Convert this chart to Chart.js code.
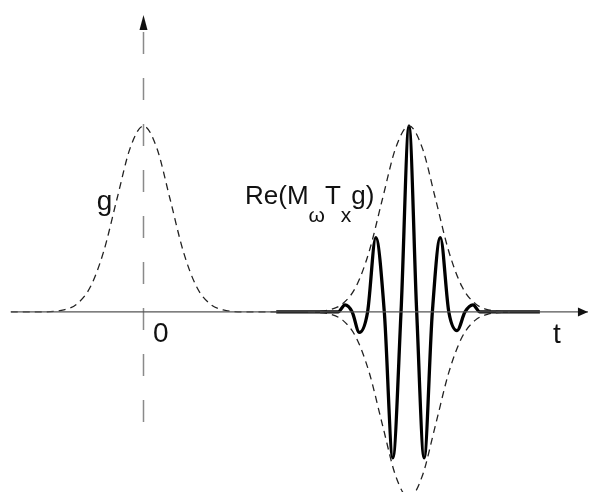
<!DOCTYPE html>
<html>
<head>
<meta charset="utf-8">
<script src="https://cdn.jsdelivr.net/npm/chart.js@4"></script>
<style>
  html, body { margin: 0; padding: 0; background: #fff; }
  canvas { display: block; }
</style>
</head>
<body>
<canvas id="gaborChart" width="589" height="492"></canvas>
<script>
// window g, centred at t = 0
const tG = [-5.0, -4.0, -3.0, -2.5, -2.0, -1.5, -1.0, -0.5, 0, 0.5, 1.0, 1.5, 2.0, 2.5, 3.0, 4.0, 5.2];
const gValues = [0, 0, 0.011, 0.044, 0.135, 0.325, 0.607, 0.882, 1.0, 0.882, 0.607, 0.325, 0.135, 0.044, 0.011, 0, 0];

// envelope of the shifted window (dashed, above and below)
const tEnvelope = [6.2, 6.5, 7.0, 7.5, 8.0, 8.5, 9.0, 9.5, 10.0, 10.5, 11.0, 11.5, 12.0, 12.5, 13.0, 13.5, 13.8];
const envUpper = [0, 0.002, 0.011, 0.044, 0.135, 0.325, 0.607, 0.882, 1.0, 0.882, 0.607, 0.325, 0.135, 0.044, 0.011, 0.002, 0];
const envLower = [0, -0.002, -0.011, -0.044, -0.135, -0.325, -0.607, -0.882, -1.0, -0.882, -0.607, -0.325, -0.135, -0.044, -0.011, -0.002, 0];

// Re(M_w T_x g): extrema and zero crossings
const tWave = [5.0, 6.8, 7.33, 7.59, 7.86, 8.13, 8.44, 8.75, 9.07, 9.39, 9.70, 10.0, 10.29, 10.57, 10.88, 11.18, 11.50, 11.81, 12.11, 12.41, 12.67, 13.2, 14.93];
const waveValues = [0, 0, 0, 0.038, 0, -0.11, 0, 0.40, 0, -0.785, 0, 1.0, 0, -0.785, 0, 0.40, 0, -0.10, 0, 0.038, 0, 0, 0];

// axes
const tAxis = [-4.99, 16.74];
const yAxis = [1.505, -0.688];
const xRange = [-5.405, 16.78];
const yRange = [-0.968, 1.677];

const toPoints = (xs, ys) => xs.map((x, i) => ({ x: x, y: ys[i] }));

const arrowsAndLabels = {
    id: 'arrowsAndLabels',
    afterDatasetsDraw(chart) {
        const ctx = chart.ctx;
        const sx = chart.scales.x;
        const sy = chart.scales.y;
        ctx.save();

        // arrow heads on the axes
        ctx.fillStyle = '#111';
        const ax = sx.getPixelForValue(tAxis[1]);
        const ay = sy.getPixelForValue(0);
        ctx.beginPath();
        ctx.moveTo(ax, ay);
        ctx.lineTo(ax - 10, ay - 4.5);
        ctx.lineTo(ax - 10, ay + 4.5);
        ctx.closePath();
        ctx.fill();

        const vx = sx.getPixelForValue(0);
        const vy = sy.getPixelForValue(1.597);
        ctx.beginPath();
        ctx.moveTo(vx, vy);
        ctx.lineTo(vx - 4, vy + 15);
        ctx.lineTo(vx + 4, vy + 15);
        ctx.closePath();
        ctx.fill();

        // labels
        const font = size => size + 'px "Liberation Sans", Arial, sans-serif';
        ctx.textBaseline = 'alphabetic';
        ctx.textAlign = 'left';
        ctx.fillStyle = '#111';

        ctx.font = font(28);
        ctx.fillText('g', sx.getPixelForValue(-1.763), sy.getPixelForValue(0.548));
        ctx.fillText('0', sx.getPixelForValue(0.36), sy.getPixelForValue(-0.161));
        ctx.fillText('t', sx.getPixelForValue(15.42), sy.getPixelForValue(-0.167));

        // Re(M_ω T_x g)
        let px = sx.getPixelForValue(3.823);
        const base = sy.getPixelForValue(0.581);
        const parts = [
            ['Re(M', 26, 0],
            ['\u03c9', 21, 18],
            ['T', 26, 0],
            ['x', 21, 18],
            ['g)', 26, 0]
        ];
        parts.forEach(([txt, size, drop]) => {
            ctx.font = font(size);
            ctx.fillText(txt, px, base + drop);
            px += ctx.measureText(txt).width;
        });

        ctx.restore();
    }
};

const ctx = document.getElementById('gaborChart').getContext('2d');
const gaborChart = new Chart(ctx, {
    type: 'line',
    data: {
        datasets: [
            {
                label: 'time axis',
                data: toPoints(tAxis, [0, 0]),
                borderColor: '#555',
                borderWidth: 1.2,
                pointRadius: 0
            },
            {
                label: 'vertical axis',
                data: toPoints([0, 0], yAxis),
                borderColor: '#8a8a8a',
                borderWidth: 1.5,
                borderDash: [22, 24],
                pointRadius: 0
            },
            {
                label: 'g',
                data: toPoints(tG, gValues),
                borderColor: '#222',
                borderWidth: 1.3,
                borderDash: [7, 5],
                pointRadius: 0,
                cubicInterpolationMode: 'monotone'
            },
            {
                label: 'envelope +',
                data: toPoints(tEnvelope, envUpper),
                borderColor: '#222',
                borderWidth: 1.3,
                borderDash: [7, 5],
                pointRadius: 0,
                cubicInterpolationMode: 'monotone'
            },
            {
                label: 'envelope -',
                data: toPoints(tEnvelope, envLower),
                borderColor: '#222',
                borderWidth: 1.3,
                borderDash: [7, 5],
                pointRadius: 0,
                cubicInterpolationMode: 'monotone'
            },
            {
                label: 'Re(MωTxg)',
                data: toPoints(tWave, waveValues),
                borderColor: '#000',
                borderWidth: 3.3,
                pointRadius: 0,
                cubicInterpolationMode: 'monotone'
            }
        ]
    },
    options: {
        responsive: false,
        animation: false,
        devicePixelRatio: 1,
        layout: { padding: 0 },
        plugins: {
            legend: { display: false },
            tooltip: { enabled: false }
        },
        scales: {
            x: { type: 'linear', min: xRange[0], max: xRange[1], display: false },
            y: { type: 'linear', min: yRange[0], max: yRange[1], display: false }
        }
    },
    plugins: [arrowsAndLabels]
});
</script>
</body>
</html>
